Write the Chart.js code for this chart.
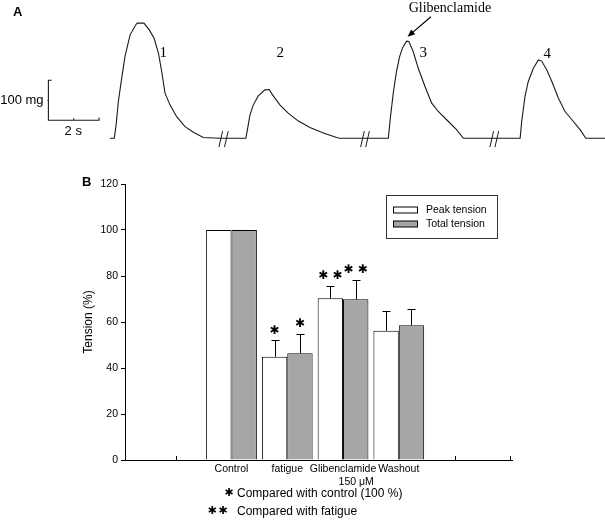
<!DOCTYPE html>
<html>
<head>
<meta charset="utf-8">
<script src="https://cdn.jsdelivr.net/npm/chart.js@4.4.1/dist/chart.umd.min.js"></script>
<style>
body { margin: 0; background: #fff; font-family: "Liberation Sans", Arial, sans-serif; }
#page { position: relative; width: 605px; height: 527px; overflow: hidden; }
.panel { position: absolute; font-weight: bold; font-size: 13px; line-height: 14px; }
#boxA { position: absolute; left: 0; top: 0; width: 605px; height: 160px; }
#boxB { position: absolute; left: 0; top: 170px; width: 605px; height: 320px; }
.note { position: absolute; left: 237px; font-size: 12px; line-height: 14px; }
.star { position: absolute; font: bold 11px "DejaVu Sans"; line-height: 14px; text-align: right; letter-spacing: 1.5px; }
</style>
</head>
<body>
<div id="page">
  <div id="boxA"><canvas id="traceChart"></canvas></div>
  <div id="boxB"><canvas id="barChart"></canvas></div>
  <div class="panel" style="left:13px;top:5px">A</div>
  <div class="panel" style="left:82px;top:175px">B</div>
  <div class="star" style="left:200px;top:486px;width:35px">✱</div>
  <div class="note" style="top:486px">Compared with control (100 %)</div>
  <div class="star" style="left:190px;top:504px;width:39px">✱✱</div>
  <div class="note" style="top:504px">Compared with fatigue</div>
</div>
<script>
Chart.defaults.font.family = '"Liberation Sans", Arial, sans-serif';
Chart.defaults.color = '#000';

// ---- panel A: tension trace (time in s, tension in mg) ----
const traceTime = [0, 0.17, 0.24, 0.33, 0.46, 0.59, 0.79, 1.03, 1.08, 1.34, 1.55, 1.74, 1.91, 2.04, 2.17, 2.37, 2.63, 2.96, 3.29, 3.68, 4.34,
  5.36, 5.43, 5.52, 5.65, 5.85, 6.11, 6.28, 6.42, 6.71, 7.03, 7.43, 7.89, 8.42, 8.94, 9.07,
  10.98, 11.06, 11.18, 11.30, 11.42, 11.54, 11.70, 11.79, 11.96, 12.16, 12.43, 12.69, 12.95, 13.35, 13.68, 13.94,
  16.18, 16.24, 16.37, 16.50, 16.70, 16.90, 17.03, 17.23, 17.43, 17.69, 17.95, 18.28, 18.55, 18.77, 19.53];
const traceTension = [0, 0, 33, 92, 150, 204, 258, 285, 288, 288, 271, 250, 213, 167, 113, 83, 54, 29, 15, 2, 0,
  0, 25, 58, 83, 106, 121, 122, 108, 83, 63, 43, 27, 13, 2, 0,
  0, 51, 116, 166, 203, 226, 243, 242, 217, 175, 129, 88, 67, 42, 21, 0,
  0, 42, 104, 142, 175, 196, 193, 171, 142, 100, 67, 42, 21, 0, 0];

// scale bar: 100 mg by 2 s (null = pen up)
const scaleBarTime = [-2.30, -2.43, -2.43, -0.43, -0.43, -0.43, -2.47, -2.43, -2.43, -1.43, -1.43];
const scaleBarValue = [145, 145, 45, 45, 52, null, 95, 95, null, 45, 50];

// "//" break marks on the baseline
const breakTime = [4.37, 4.59, 9.96, 10.16, 15.06, 15.26];

const peakLabels = ['1', '2', '3', '4'];
const peakLabelTime = [2.10, 6.72, 12.36, 17.25];
const peakLabelTension = [214, 212, 213, 211];

// ---- panel B: bars ----
const xLabels = ['', 'Control', 'fatigue', ['Glibenclamide', '         150 \u03bcM'], 'Washout', ''];
const groupPos = [1, 2, 3, 4];
const peakTension = [100, 44.9, 70.3, 56.2];
const peakErr = [0, 7.3, 5.5, 8.6];
const totalTension = [100, 46.4, 69.9, 58.6];
const totalErr = [0, 8.5, 8.5, 6.9];
const peakStars = ['', '\u2731', '\u2731 \u2731', ''];
const totalStars = ['', '\u2731', '\u2731 \u2731', ''];
const xTickMarks = [0, 5, 6];

const slashes = [];
breakTime.forEach(t => {
  slashes.push({x: t - 0.073, y: -22}, {x: t + 0.073, y: 18}, {x: t + 0.073, y: null});
});

const traceNotes = {
  id: 'traceNotes',
  afterDatasetsDraw(chart) {
    const {ctx, scales: {x, y}} = chart;
    ctx.save();
    ctx.fillStyle = '#000';
    ctx.strokeStyle = '#000';
    ctx.textAlign = 'center';
    ctx.textBaseline = 'middle';
    ctx.font = '15px "Liberation Serif"';
    peakLabels.forEach((s, i) => {
      ctx.fillText(s, x.getPixelForValue(peakLabelTime[i]), y.getPixelForValue(peakLabelTension[i]));
    });
    ctx.font = '14px "Liberation Serif"';
    ctx.fillText('Glibenclamide', x.getPixelForValue(13.41), y.getPixelForValue(326));

    // arrow towards peak 3
    const x1 = x.getPixelForValue(12.66), y1 = y.getPixelForValue(304);
    const x2 = x.getPixelForValue(11.74), y2 = y.getPixelForValue(254);
    const a = Math.atan2(y2 - y1, x2 - x1);
    ctx.lineWidth = 1.2;
    ctx.beginPath();
    ctx.moveTo(x1, y1);
    ctx.lineTo(x2 - 4 * Math.cos(a), y2 - 4 * Math.sin(a));
    ctx.stroke();
    ctx.beginPath();
    ctx.moveTo(x2, y2);
    ctx.lineTo(x2 - 8 * Math.cos(a - 0.4), y2 - 8 * Math.sin(a - 0.4));
    ctx.lineTo(x2 - 8 * Math.cos(a + 0.4), y2 - 8 * Math.sin(a + 0.4));
    ctx.closePath();
    ctx.fill();

    ctx.font = '13px "Liberation Sans"';
    ctx.textAlign = 'right';
    ctx.fillText('100 mg', x.getPixelForValue(-2.62), y.getPixelForValue(95));
    ctx.textAlign = 'center';
    ctx.fillText('2 s', x.getPixelForValue(-1.45), y.getPixelForValue(16));
    ctx.restore();
  }
};

new Chart(document.getElementById('traceChart'), {
  type: 'line',
  data: {
    datasets: [
      { data: traceTime.map((t, i) => ({x: t, y: traceTension[i]})), borderColor: '#1a1a1a', borderWidth: 1.1, pointRadius: 0, pointHoverRadius: 0 },
      { data: scaleBarTime.map((t, i) => ({x: t, y: scaleBarValue[i]})), borderColor: '#1a1a1a', borderWidth: 1.1, pointRadius: 0, pointHoverRadius: 0 },
      { data: slashes, borderColor: '#1a1a1a', borderWidth: 1, pointRadius: 0, pointHoverRadius: 0 }
    ]
  },
  options: {
    responsive: true,
    maintainAspectRatio: false,
    animation: false,
    layout: { padding: 0 },
    plugins: { legend: { display: false }, tooltip: { enabled: false } },
    scales: {
      x: { type: 'linear', display: false, min: -4.339, max: 19.527 },
      y: { display: false, min: -54.25, max: 345.75 }
    }
  },
  plugins: [traceNotes]
});

const barExtras = {
  id: 'barExtras',
  afterDatasetsDraw(chart) {
    const {ctx, chartArea: area, scales: {x, y}} = chart;
    ctx.save();
    ctx.strokeStyle = '#000';
    ctx.fillStyle = '#000';
    ctx.lineWidth = 1;
    chart.data.datasets.forEach((ds, di) => {
      chart.getDatasetMeta(di).data.forEach((bar, i) => {
        const err = ds.err[i];
        const topVal = ds.data[i].y + err;
        const bx = Math.round(bar.x) + 0.5;
        if (err > 0) {
          const top = Math.round(y.getPixelForValue(topVal)) + 0.5;
          ctx.beginPath();
          ctx.moveTo(bx, bar.y);
          ctx.lineTo(bx, top);
          ctx.moveTo(bx - 4, top);
          ctx.lineTo(bx + 4, top);
          ctx.stroke();
        }
        if (ds.stars[i]) {
          ctx.font = 'bold 12px "DejaVu Sans"';
          ctx.textAlign = 'center';
          ctx.textBaseline = 'middle';
          ctx.fillText(ds.stars[i], bar.x, y.getPixelForValue(topVal) - 9.5);
        }
      });
    });

    // small inward tick marks on the x axis
    xTickMarks.forEach(v => {
      const px = Math.round(x.getPixelForValue(v)) + 0.5;
      ctx.beginPath();
      ctx.moveTo(px, area.bottom);
      ctx.lineTo(px, area.bottom - 4);
      ctx.stroke();
    });

    // legend box
    ctx.strokeStyle = '#333';
    ctx.strokeRect(386.5, 25.5, 111, 43);
    ctx.font = '10.5px "Liberation Sans"';
    ctx.textAlign = 'left';
    ctx.textBaseline = 'middle';
    chart.data.datasets.forEach((ds, di) => {
      const cy = 40 + di * 14;
      ctx.fillStyle = ds.backgroundColor;
      ctx.fillRect(393.5, cy - 3, 24, 6);
      ctx.strokeStyle = '#000';
      ctx.strokeRect(393.5, cy - 3, 24, 6);
      ctx.fillStyle = '#000';
      ctx.fillText(ds.label, 426, cy);
    });
    ctx.restore();
  }
};

new Chart(document.getElementById('barChart'), {
  type: 'bar',
  data: {
    datasets: [
      { label: 'Peak tension', data: groupPos.map((p, i) => ({x: p, y: peakTension[i]})), err: peakErr, stars: peakStars,
        backgroundColor: '#ffffff', borderColor: '#000', borderWidth: 1 },
      { label: 'Total tension', data: groupPos.map((p, i) => ({x: p, y: totalTension[i]})), err: totalErr, stars: totalStars,
        backgroundColor: '#a6a6a6', borderColor: '#000', borderWidth: 1 }
    ]
  },
  options: {
    responsive: true,
    maintainAspectRatio: false,
    animation: false,
    categoryPercentage: 0.91,
    barPercentage: 1,
    layout: { padding: { left: 78, top: 14, right: 93, bottom: 0 } },
    plugins: { legend: { display: false }, tooltip: { enabled: false } },
    scales: {
      x: {
        type: 'linear', min: -0.91, max: 6.03, offset: false, bounds: 'data',
        grid: { display: false, drawTicks: false },
        border: { color: '#000', width: 1 },
        afterBuildTicks: s => { s.ticks = xLabels.map((l, i) => ({value: i})); },
        ticks: { autoSkip: false, maxRotation: 0, padding: 3, font: { size: 10.5 }, color: '#000',
                 callback: v => xLabels[v] },
        afterFit: s => { s.height = 30; }
      },
      y: {
        min: 0, max: 120,
        ticks: { stepSize: 20, padding: 3, font: { size: 10.5 }, color: '#000' },
        grid: { drawOnChartArea: false, tickLength: 4, color: '#000' },
        border: { color: '#000', width: 1 },
        title: { display: true, text: 'Tension (%)', font: { size: 12 }, color: '#000', padding: { top: 3, bottom: 0 } },
        afterFit: s => { s.width = 47; }
      }
    }
  },
  plugins: [barExtras]
});
</script>
</body>
</html>
